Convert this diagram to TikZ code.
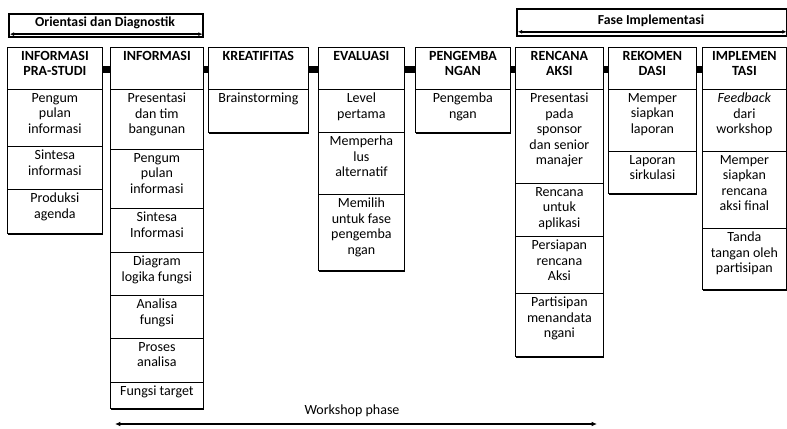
\documentclass[tikz,border=0pt]{standalone}
\usepackage{fontspec}
\setmainfont{Carlito}
\usetikzlibrary{arrows.meta,shadows}
% name, x, ytop, width(px), height(px), text, style
\newcommand\mkcell[7]{%
  \node[cellst, anchor=north west, minimum width=#4*0.75pt, minimum height=#5*0.75pt] (#1) at (#2,#3) {};
  \node[#7, anchor=north] (#1t) at ([yshift=-3pt]#1.north) {#6};
}
\begin{document}
\begin{tikzpicture}[x=0.75pt,y=-0.75pt,
  cellst/.style={draw=black, line width=0.6pt, fill=white, inner sep=0pt,
    drop shadow={shadow xshift=0.7pt, shadow yshift=-1.4pt, fill=black, opacity=1}},
  txt/.style={align=center, inner sep=0pt, font=\fontsize{10.5}{11.6}\selectfont},
  hdr/.style={align=center, inner sep=0pt, font=\fontsize{10.5}{11.6}\selectfont\bfseries},
  conn/.style={line width=5.2pt},
  phase/.style={draw=black, line width=1.8pt, fill=white, inner sep=0pt},
  phtxt/.style={inner sep=0pt, font=\fontsize{10.3}{12}\selectfont\bfseries},
  dbl/.style={{Latex[length=3pt,width=3pt]}-{Latex[length=3pt,width=3pt]}, line width=1.3pt},
]
\useasboundingbox (0,0) rectangle (787,428);

% ---- phase boxes
\node[phase, anchor=north west, minimum width=194*0.75pt, minimum height=23*0.75pt] (ph1) at (8,13) {};
\node[phtxt] (ph1t) at (105,23) {Orientasi dan Diagnostik};
\draw[dbl] ([xshift=1.5pt,yshift=3.2pt]ph1.south west) -- ([xshift=-1.5pt,yshift=3.2pt]ph1.south east);

\node[phase, anchor=north west, minimum width=270*0.75pt, minimum height=27*0.75pt] (ph2) at (516,8) {};
\node[phtxt] (ph2t) at (651,21) {Fase Implementasi};
\draw[dbl] ([xshift=1.5pt,yshift=4.2pt]ph2.south west) -- ([xshift=-1.5pt,yshift=4.2pt]ph2.south east);

% ---- column 1
\mkcell{h1}{7}{47}{95}{42}{INFORMASI\\PRA-STUDI}{hdr}
\mkcell{a1}{7}{89}{95}{57}{Pengum\\pulan\\informasi}{txt}
\mkcell{a2}{7}{146}{95}{43}{Sintesa\\informasi}{txt}
\mkcell{a3}{7}{189}{95}{44}{Produksi\\agenda}{txt}

% ---- column 2
\mkcell{h2}{110}{47}{93}{42}{INFORMASI}{hdr}
\mkcell{b1}{110}{89}{93}{60}{Presentasi\\dan tim\\bangunan}{txt}
\mkcell{b2}{110}{149}{93}{59}{Pengum\\pulan\\informasi}{txt}
\mkcell{b3}{110}{208}{93}{44}{Sintesa\\Informasi}{txt}
\mkcell{b4}{110}{252}{93}{43}{Diagram\\logika fungsi}{txt}
\mkcell{b5}{110}{295}{93}{43}{Analisa\\fungsi}{txt}
\mkcell{b6}{110}{338}{93}{44}{Proses\\analisa}{txt}
\mkcell{b7}{110}{382}{93}{26}{Fungsi target}{txt}

% ---- column 3
\mkcell{h3}{208}{47}{100}{42}{KREATIFITAS}{hdr}
\mkcell{c1}{208}{89}{100}{43}{Brainstorming}{txt}

% ---- column 4
\mkcell{h4}{318}{47}{86}{42}{EVALUASI}{hdr}
\mkcell{d1}{318}{89}{86}{43}{Level\\pertama}{txt}
\mkcell{d2}{318}{132}{86}{62}{Memperha\\lus\\alternatif}{txt}
\mkcell{d3}{318}{194}{86}{76}{Memilih\\untuk fase\\pengemba\\ngan}{txt}

% ---- column 5
\mkcell{h5}{415}{47}{95}{42}{PENGEMBA\\NGAN}{hdr}
\mkcell{e1}{415}{89}{95}{43}{Pengemba\\ngan}{txt}

% ---- column 6
\mkcell{h6}{515}{47}{88}{42}{RENCANA\\AKSI}{hdr}
\mkcell{f1}{515}{89}{88}{94}{Presentasi\\pada\\sponsor\\dan senior\\manajer}{txt}
\mkcell{f2}{515}{183}{88}{53}{Rencana\\untuk\\aplikasi}{txt}
\mkcell{f3}{515}{236}{88}{57}{Persiapan\\rencana\\Aksi}{txt}
\mkcell{f4}{515}{293}{88}{63}{Partisipan\\menandata\\ngani}{txt}

% ---- column 7
\mkcell{h7}{608}{47}{88}{42}{REKOMEN\\DASI}{hdr}
\mkcell{g1}{608}{89}{88}{62}{Memper\\siapkan\\laporan}{txt}
\mkcell{g2}{608}{151}{88}{42}{Laporan\\sirkulasi}{txt}

% ---- column 8
\mkcell{h8}{702}{47}{84}{42}{IMPLEMEN\\TASI}{hdr}
\mkcell{k1}{702}{89}{84}{62}{\textit{Feedback}\\dari\\workshop}{txt}
\mkcell{k2}{702}{151}{84}{77}{Memper\\siapkan\\rencana\\aksi final}{txt}
\mkcell{k3}{702}{228}{84}{61}{Tanda\\tangan oleh\\partisipan}{txt}

% ---- connectors between headers
\foreach \p/\q in {h1/h2,h2/h3,h3/h4,h4/h5,h5/h6,h6/h7,h7/h8}{
  \draw[conn] ([yshift=-1.1pt]\p.east) -- ([yshift=-1.1pt]\q.west);
}

% ---- workshop phase
\node[inner sep=0pt, font=\fontsize{10.5}{12}\selectfont] (ws) at (352,411) {Workshop phase};
\coordinate (wsl) at (115,424);
\coordinate (wsr) at (597,424);
\draw[{Latex[length=4pt,width=3.5pt]}-{Latex[length=4pt,width=3.5pt]}, line width=2pt] (wsl) -- (wsr);
\end{tikzpicture}
\end{document}
